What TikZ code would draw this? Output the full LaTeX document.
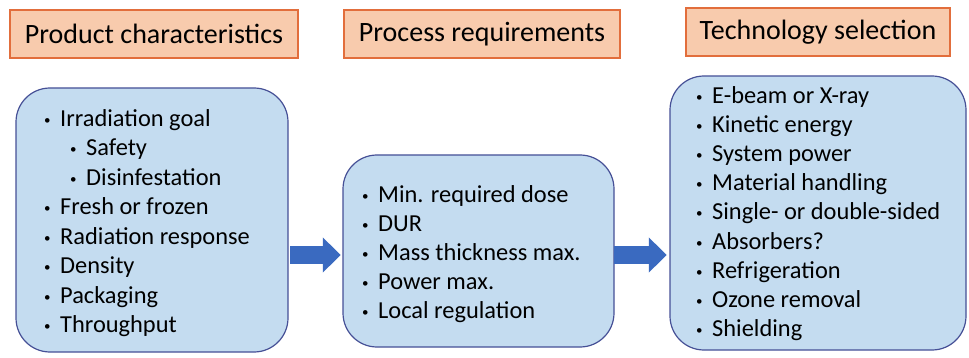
\documentclass[tikz,border=0pt]{standalone}
\usepackage{fontspec}
\setmainfont{Carlito}
\usetikzlibrary{arrows.meta}
\definecolor{hdrfill}{RGB}{248,203,173}
\definecolor{hdrdraw}{RGB}{226,110,60}
\definecolor{boxfill}{RGB}{196,220,240}
\definecolor{boxdraw}{RGB}{70,80,150}
\definecolor{arrblue}{RGB}{58,106,192}
\newcommand{\bul}{\makebox[16pt][l]{\raisebox{2pt}{\fontsize{13}{13}\selectfont\textbullet}}}
\newcommand{\subbul}{\hspace*{26pt}\bul}
\begin{document}
\begin{tikzpicture}[x=1pt,y=-1pt,
  hdr/.style={draw=hdrdraw,fill=hdrfill,line width=1.2pt,inner sep=0pt,font=\fontsize{28}{32}\selectfont},
  bbox/.style={draw=boxdraw,fill=boxfill,line width=1.2pt,rounded corners=34pt},
  lst/.style={anchor=north west,align=left,inner sep=0pt,font=\fontsize{24.4}{29.5}\selectfont},
  conn/.style={arrblue,line width=18pt,-{Triangle[length=18pt,width=34pt]}}]
\useasboundingbox (0,0) rectangle (969,358);
% headers
\node[hdr,minimum width=288,minimum height=48] (h1) at (154,34) {Product characteristics};
\node[hdr,minimum width=276,minimum height=48] (h2) at (482,34) {Process requirements};
\node[hdr,minimum width=264,minimum height=48] (h3) at (818,32) {Technology selection};
% boxes
\draw[bbox] (16,88) rectangle (288,352);
\node[minimum width=272,minimum height=264,inner sep=0pt] (b1) at (152,220) {};
\draw[bbox] (343,155) rectangle (614,347);
\node[minimum width=271,minimum height=192,inner sep=0pt] (b2) at (478.5,251) {};
\draw[bbox] (670,76) rectangle (966,350);
\node[minimum width=296,minimum height=274,inner sep=0pt] (b3) at (818,213) {};
% lists
\node[lst] (l1) at (44,109) {\bul Irradiation goal\\ \subbul Safety\\ \subbul Disinfestation\\ \bul Fresh or frozen\\ \bul Radiation response\\ \bul Density\\ \bul Packaging\\ \bul Throughput};
\node[lst,font=\fontsize{24.4}{29}\selectfont] (l2) at (362,185) {\bul Min. required dose\\ \bul DUR\\ \bul Mass thickness max.\\ \bul Power max.\\ \bul Local regulation};
\node[lst,font=\fontsize{24.4}{29.2}\selectfont] (l3) at (696,86) {\bul E-beam or X-ray\\ \bul Kinetic energy\\ \bul System power\\ \bul Material handling\\ \bul Single- or double-sided\\ \bul Absorbers?\\ \bul Refrigeration\\ \bul Ozone removal\\ \bul Shielding};
% arrows
\coordinate (ay) at (0,255);
\draw[conn] ([xshift=2pt]b1.east |- ay) -- ([xshift=-2pt]b2.west |- ay);
\draw[conn] (b2.east |- ay) -- ([xshift=-3pt]b3.west |- ay);
\end{tikzpicture}
\end{document}
